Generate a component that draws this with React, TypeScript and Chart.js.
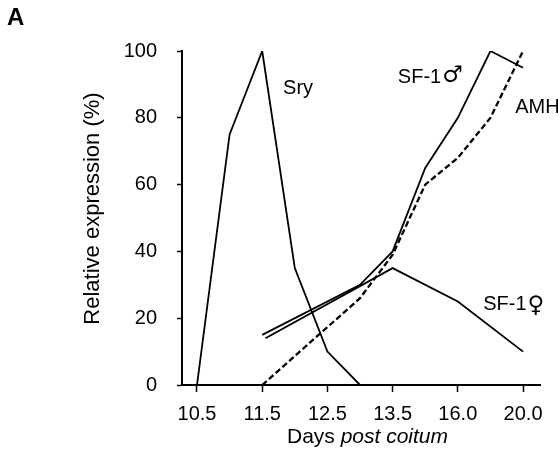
import React, { useEffect, useRef } from 'react';
import { Chart, registerables } from 'chart.js';

Chart.register(...registerables);

const FONT = '"Liberation Sans", Arial, Helvetica, sans-serif';
const SYMBOL_FONT = '"DejaVu Sans", "Liberation Sans", sans-serif';

// x positions are day indices on the (non-linear) day axis: 0 = 10.5, 1 = 11.5, ... 5 = 20.0
const dayLabels = ['10.5', '11.5', '12.5', '13.5', '16.0', '20.0'];
const yTicks = [0, 20, 40, 60, 80, 100];

const sryDays = [0, 0.5, 1, 1.5, 2, 2.5];
const sryValues = [0, 75, 100, 35, 10, 0];

const sf1MaleDays = [1, 2.5, 3, 3.5, 4, 4.5, 5];
const sf1MaleValues = [15, 30, 40, 65, 80, 100, 95];

const sf1FemaleDays = [1.05, 3, 4, 5];
const sf1FemaleValues = [14, 35, 25, 10];

const amhDays = [1, 2.5, 3, 3.5, 4, 4.5, 5];
const amhValues = [0, 26, 39, 60, 68, 80, 100];

const seriesNames = ['Sry', 'SF-1', 'AMH', 'SF-1'];
const seriesSymbols = ['', '\u2642', '', '\u2640'];
const nameDays = [1.32, 3.08, 4.88, 4.39];
const nameValues = [87.2, 90.4, 81.5, 22.4];

const xTitleNormal = 'Days ';
const xTitleItalic = 'post coitum';
const yTitle = 'Relative expression (%)';
const panelLetter = 'A';

const toPoints = (xs: number[], ys: number[]) => xs.map((x, i) => ({ x, y: ys[i] }));

const textPlugin = {
  id: 'figureText',
  afterDraw(chart: any) {
    const { ctx, scales } = chart;
    const xs = scales.x;
    const ys = scales.y;
    ctx.save();
    ctx.fillStyle = '#000';
    ctx.textBaseline = 'alphabetic';
    ctx.textAlign = 'left';
    seriesNames.forEach((t, i) => {
      const px = xs.getPixelForValue(nameDays[i]);
      const py = ys.getPixelForValue(nameValues[i]);
      ctx.font = `20px ${FONT}`;
      ctx.fillText(t, px, py);
      if (seriesSymbols[i]) {
        const w = ctx.measureText(t).width;
        ctx.font = `23px ${SYMBOL_FONT}`;
        ctx.fillText(seriesSymbols[i], px + w + 1, py + (i === 3 ? 2 : -1));
      }
    });

    ctx.font = `bold 24px ${FONT}`;
    ctx.fillText(panelLetter, 7, 25);

    ctx.save();
    ctx.translate(98.5, 208.5);
    ctx.rotate(-Math.PI / 2);
    ctx.font = `22px ${FONT}`;
    ctx.textAlign = 'center';
    ctx.fillText(yTitle, 0, 0);
    ctx.restore();

    ctx.font = `21px ${FONT}`;
    const w1 = ctx.measureText(xTitleNormal).width;
    ctx.font = `italic 21px ${FONT}`;
    const w2 = ctx.measureText(xTitleItalic).width;
    const startX = 367.5 - (w1 + w2) / 2;
    ctx.font = `21px ${FONT}`;
    ctx.fillText(xTitleNormal, startX, 443);
    ctx.font = `italic 21px ${FONT}`;
    ctx.fillText(xTitleItalic, startX + w1, 443);
    ctx.restore();
  },
};

export default function App() {
  const canvasRef = useRef<HTMLCanvasElement | null>(null);

  useEffect(() => {
    if (!canvasRef.current) return;
    const solid = { borderColor: '#000', borderWidth: 1.8, pointRadius: 0, tension: 0, fill: false };
    const chart = new Chart(canvasRef.current, {
      type: 'line',
      data: {
        datasets: [
          { label: 'Sry', data: toPoints(sryDays, sryValues), ...solid },
          { label: 'SF-1 male', data: toPoints(sf1MaleDays, sf1MaleValues), ...solid },
          { label: 'SF-1 female', data: toPoints(sf1FemaleDays, sf1FemaleValues), ...solid },
          {
            label: 'AMH',
            data: toPoints(amhDays, amhValues),
            ...solid,
            borderWidth: 2.3,
            borderDash: [6, 3],
          },
        ],
      },
      options: {
        animation: false,
        responsive: false,
        devicePixelRatio: 1,
        layout: { padding: { top: 51, right: 18, left: 0, bottom: 0 } },
        plugins: { legend: { display: false }, tooltip: { enabled: false }, title: { display: false } },
        scales: {
          x: {
            type: 'linear',
            min: -0.23,
            max: 5.26,
            afterBuildTicks: (scale: any) => {
              scale.ticks = dayLabels.map((_, i) => ({ value: i }));
            },
            afterFit: (scale: any) => {
              scale.height = 77;
            },
            grid: { display: true, drawOnChartArea: false, drawTicks: true, tickLength: 7, tickColor: '#000', tickWidth: 1.5 },
            border: { display: true, color: '#000', width: 2 },
            ticks: {
              autoSkip: false,
              maxRotation: 0,
              padding: 10,
              color: '#000',
              font: { family: FONT, size: 20 },
              callback: (v: any) => dayLabels[v as number] ?? '',
            },
          },
          y: {
            type: 'linear',
            min: 0,
            max: 100,
            afterBuildTicks: (scale: any) => {
              scale.ticks = yTicks.map((v) => ({ value: v }));
            },
            afterFit: (scale: any) => {
              scale.width = 182;
            },
            grid: { display: true, drawOnChartArea: false, drawTicks: true, tickLength: 5, tickColor: '#000', tickWidth: 1.5 },
            border: { display: true, color: '#000', width: 2 },
            ticks: {
              padding: 20,
              color: '#000',
              font: { family: FONT, size: 20 },
            },
          },
        },
      },
      plugins: [textPlugin],
    } as any);
    return () => chart.destroy();
  }, []);

  return (
    <div style={{ position: 'absolute', left: 0, top: 0, width: 558, height: 462, background: '#fff' }}>
      <canvas ref={canvasRef} width={558} height={462} style={{ display: 'block', width: 558, height: 462 }} />
    </div>
  );
}
